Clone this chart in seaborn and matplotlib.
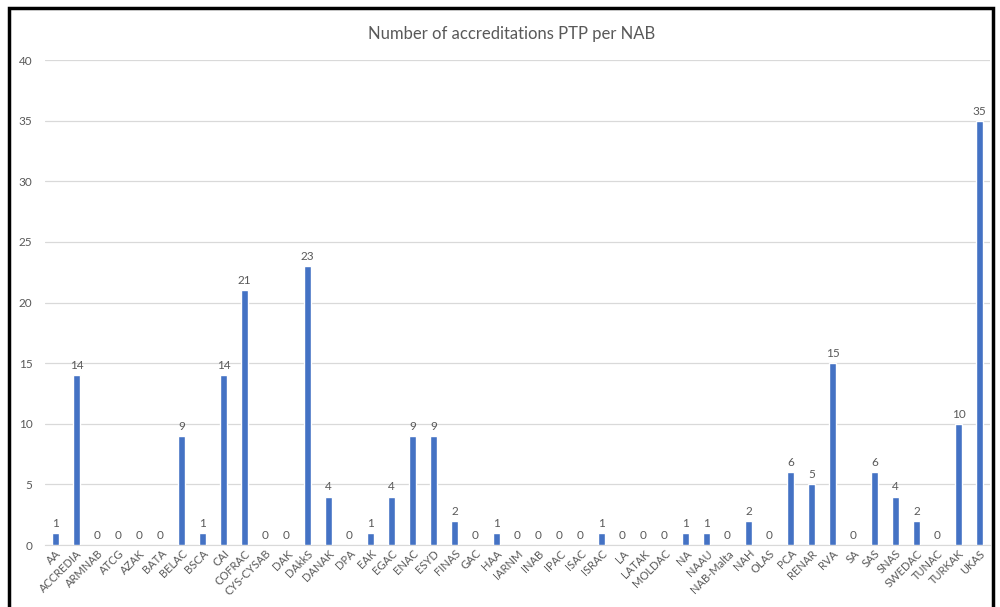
import pandas as pd
import seaborn as sns
import matplotlib.pyplot as plt
from matplotlib.patches import Rectangle

nabs = ["AA", "ACCREDIA", "ARMNAB", "ATCG", "AZAK", "BATA", "BELAC", "BSCA", "CAI",
        "COFRAC", "CYS-CYSAB", "DAK", "DAkkS", "DANAK", "DPA", "EAK", "EGAC", "ENAC",
        "ESYD", "FINAS", "GAC", "HAA", "IARNM", "INAB", "IPAC", "ISAC", "ISRAC", "LA",
        "LATAK", "MOLDAC", "NA", "NAAU", "NAB-Malta", "NAH", "OLAS", "PCA", "RENAR",
        "RVA", "SA", "SAS", "SNAS", "SWEDAC", "TUNAC", "TURKAK", "UKAS"]
counts = [1, 14, 0, 0, 0, 0, 9, 1, 14,
          21, 0, 0, 23, 4, 0, 1, 4, 9,
          9, 2, 0, 1, 0, 0, 0, 0, 1, 0,
          0, 0, 1, 1, 0, 2, 0, 6, 5,
          15, 0, 6, 4, 2, 0, 10, 35]
yticks = [0, 5, 10, 15, 20, 25, 30, 35, 40]

df = pd.DataFrame({"nab": nabs, "count": counts})

sns.set_style("white")
plt.rcParams["font.family"] = ["Lato", "DejaVu Sans"]
grey = "#595959"

fig = plt.figure(figsize=(10, 6.07), dpi=100)
ax = fig.add_axes([0.045, 0.102, 0.945, 0.799])

sns.barplot(x="nab", y="count", data=df, color="#4472C4", width=0.3,
            saturation=1, ax=ax, zorder=3)
ax.bar_label(ax.containers[0], fontsize=8.5, color=grey, padding=3)

ax.set_ylim(0, 40)
ax.set_xlim(-0.5, len(nabs) - 0.5)
ax.set_yticks(yticks)
ax.yaxis.grid(True, color="#D9D9D9", linewidth=0.9, zorder=0)
ax.set_xlabel("")
ax.set_ylabel("")
ax.tick_params(axis="y", labelsize=8.5, labelcolor=grey, length=0, pad=9)
ax.tick_params(axis="x", labelsize=8, labelcolor=grey, length=0, pad=2)
plt.setp(ax.get_xticklabels(), rotation=45, ha="right", rotation_mode="anchor")
for s in ["top", "right", "left"]:
    ax.spines[s].set_visible(False)
ax.spines["bottom"].set_color("#D9D9D9")

fig.text(0.512, 0.944, "Number of accreditations PTP per NAB", ha="center",
         va="center", fontsize=12, color=grey)

# screenshot frame
fig.patches.append(Rectangle((0.009, -0.05), 0.984, 1.036, transform=fig.transFigure,
                             fill=False, edgecolor="black", linewidth=2.5))

fig.savefig("out.png", dpi=100)
